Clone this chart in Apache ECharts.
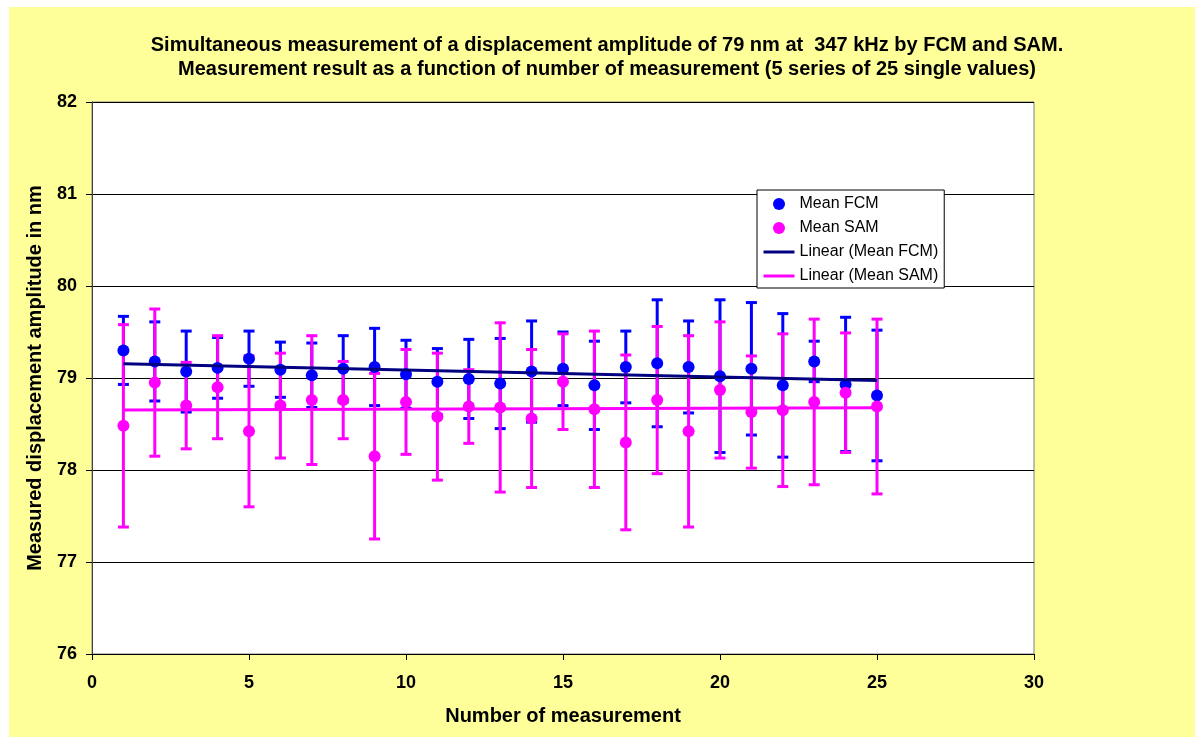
<!DOCTYPE html>
<html>
<head>
<meta charset="utf-8">
<script src="https://cdn.jsdelivr.net/npm/echarts@6/dist/echarts.min.js"></script>
<style>
html, body { margin: 0; padding: 0; background: #fff; }
#chart { width: 1198px; height: 737px; }
</style>
</head>
<body>
<div id="chart"></div>
<script>
// measurement number 1..25
var measNo = [1, 2, 3, 4, 5, 6, 7, 8, 9, 10, 11, 12, 13, 14, 15, 16, 17, 18, 19, 20, 21, 22, 23, 24, 25];
// FCM: mean value and error bar half-width (nm)
var fcmMean = [79.30, 79.18, 79.07, 79.11, 79.21, 79.09, 79.03, 79.10, 79.12, 79.04, 78.96, 78.99, 78.94,
               79.07, 79.10, 78.92, 79.12, 79.16, 79.12, 79.02, 79.10, 78.92, 79.18, 78.93, 78.81];
var fcmErr = [0.37, 0.43, 0.44, 0.33, 0.30, 0.30, 0.35, 0.36, 0.42, 0.37, 0.36, 0.43, 0.49,
              0.55, 0.40, 0.48, 0.39, 0.69, 0.50, 0.83, 0.72, 0.78, 0.22, 0.73, 0.71];
// SAM: mean value and error bar half-width (nm)
var samMean = [78.48, 78.95, 78.70, 78.90, 78.42, 78.70, 78.76, 78.76, 78.15, 78.74, 78.58, 78.69, 78.68,
               78.56, 78.96, 78.66, 78.30, 78.76, 78.42, 78.87, 78.63, 78.65, 78.74, 78.84, 78.69];
var samErr = [1.10, 0.80, 0.47, 0.56, 0.82, 0.57, 0.70, 0.42, 0.90, 0.57, 0.69, 0.40, 0.92,
              0.75, 0.52, 0.85, 0.95, 0.80, 1.04, 0.74, 0.61, 0.83, 0.90, 0.65, 0.95];

var xTicks = [0, 5, 10, 15, 20, 25, 30];
var yTicks = [76, 77, 78, 79, 80, 81, 82];

var font = 'Liberation Sans, Arial, sans-serif';

function pairs(xs, ys) {
    return xs.map(function(x, i) { return [x, ys[i]]; });
}
function triples(xs, ys, es) {
    return xs.map(function(x, i) { return [x, ys[i], es[i]]; });
}
// least squares trend line, like the spreadsheet "Linear" trendline
function trend(xs, ys) {
    var n = xs.length, sx = 0, sy = 0, sxx = 0, sxy = 0;
    for (var i = 0; i < n; i++) {
        sx += xs[i]; sy += ys[i]; sxx += xs[i] * xs[i]; sxy += xs[i] * ys[i];
    }
    var b = (n * sxy - sx * sy) / (n * sxx - sx * sx);
    var a = (sy - b * sx) / n;
    var x0 = xs[0], x1 = xs[n - 1];
    return [[x0, a + b * x0], [x1, a + b * x1]];
}
function errorBars(color) {
    return function(params, api) {
        var x = api.value(0), m = api.value(1), e = api.value(2);
        var top = api.coord([x, m + e]);
        var bot = api.coord([x, m - e]);
        var hw = 5.5;
        var st = { stroke: color, lineWidth: 3 };
        return {
            type: 'group',
            children: [
                { type: 'line', shape: { x1: top[0], y1: top[1], x2: bot[0], y2: bot[1] }, style: st },
                { type: 'line', shape: { x1: top[0] - hw, y1: top[1], x2: top[0] + hw, y2: top[1] }, style: st },
                { type: 'line', shape: { x1: bot[0] - hw, y1: bot[1], x2: bot[0] + hw, y2: bot[1] }, style: st }
            ]
        };
    };
}

var chart = echarts.init(document.getElementById('chart'));
var option = {
    animation: false,
    backgroundColor: '#fff',
    graphic: [{
        type: 'rect', z: -10, silent: true,
        shape: { x: 9, y: 7, width: 1186, height: 730 },
        style: { fill: '#FFFF99' }
    }],
    title: {
        text: 'Simultaneous measurement of a displacement amplitude of 79 nm at  347 kHz by FCM and SAM.\nMeasurement result as a function of number of measurement (5 series of 25 single values)',
        left: 602, top: 28, textAlign: 'center',
        textStyle: { fontFamily: font, fontSize: 20, fontWeight: 'bold', color: '#000', lineHeight: 24 }
    },
    legend: {
        orient: 'vertical',
        left: 757, top: 190,
        padding: [5, 6, 3, 5],
        itemWidth: 31, itemHeight: 12, itemGap: 6,
        backgroundColor: '#fff',
        borderColor: '#000', borderWidth: 1,
        textStyle: { fontFamily: font, fontSize: 16, color: '#000', lineHeight: 18 },
        data: [
            'Mean FCM',
            'Mean SAM',
            { name: 'Linear (Mean FCM)', itemStyle: { opacity: 0 }, lineStyle: { width: 3 } },
            { name: 'Linear (Mean SAM)', itemStyle: { opacity: 0 }, lineStyle: { width: 3 } }
        ]
    },
    grid: {
        left: 92, right: 164, top: 102, bottom: 83,
        show: true, backgroundColor: '#fff', borderColor: '#808080', borderWidth: 1
    },
    xAxis: {
        type: 'value', min: xTicks[0], max: xTicks[xTicks.length - 1], interval: 5,
        name: 'Number of measurement', nameLocation: 'middle', nameGap: 52,
        nameTextStyle: { fontFamily: font, fontSize: 20, fontWeight: 'bold', color: '#000' },
        axisLine: { lineStyle: { color: '#000', width: 1 } },
        axisTick: { show: true, length: 6, lineStyle: { color: '#000' } },
        axisLabel: { margin: 20, fontFamily: font, fontSize: 18, fontWeight: 'bold', color: '#000' },
        splitLine: { show: false }
    },
    yAxis: {
        type: 'value', min: yTicks[0], max: yTicks[yTicks.length - 1], interval: 1,
        name: 'Measured displacement amplitude in nm', nameLocation: 'middle', nameGap: 47,
        nameTextStyle: { fontFamily: font, fontSize: 20, fontWeight: 'bold', color: '#000' },
        axisLine: { show: true, lineStyle: { color: '#404040', width: 1 } },
        axisTick: { show: true, length: 6, lineStyle: { color: '#000' } },
        axisLabel: { margin: 15, fontFamily: font, fontSize: 18, fontWeight: 'bold', color: '#000' },
        splitLine: { show: true, lineStyle: { color: '#000', width: 1 } }
    },
    series: [
        {
            name: 'FCM error', type: 'custom', z: 2,
            renderItem: errorBars('#0000FF'),
            encode: { x: 0, y: 1 },
            data: triples(measNo, fcmMean, fcmErr)
        },
        {
            name: 'SAM error', type: 'custom', z: 2,
            renderItem: errorBars('#FF00FF'),
            encode: { x: 0, y: 1 },
            data: triples(measNo, samMean, samErr)
        },
        {
            name: 'Mean FCM', type: 'scatter', z: 3,
            symbol: 'circle', symbolSize: 12,
            itemStyle: { color: '#0000FF', opacity: 1 },
            data: pairs(measNo, fcmMean)
        },
        {
            name: 'Mean SAM', type: 'scatter', z: 3,
            symbol: 'circle', symbolSize: 12,
            itemStyle: { color: '#FF00FF', opacity: 1 },
            data: pairs(measNo, samMean)
        },
        {
            name: 'Linear (Mean FCM)', type: 'line', z: 4,
            symbol: 'none',
            lineStyle: { color: '#000080', width: 3 },
            itemStyle: { color: '#000080' },
            data: trend(measNo, fcmMean)
        },
        {
            name: 'Linear (Mean SAM)', type: 'line', z: 4,
            symbol: 'none',
            lineStyle: { color: '#FF00FF', width: 3 },
            itemStyle: { color: '#FF00FF' },
            data: trend(measNo, samMean)
        }
    ]
};
chart.setOption(option);
</script>
</body>
</html>
